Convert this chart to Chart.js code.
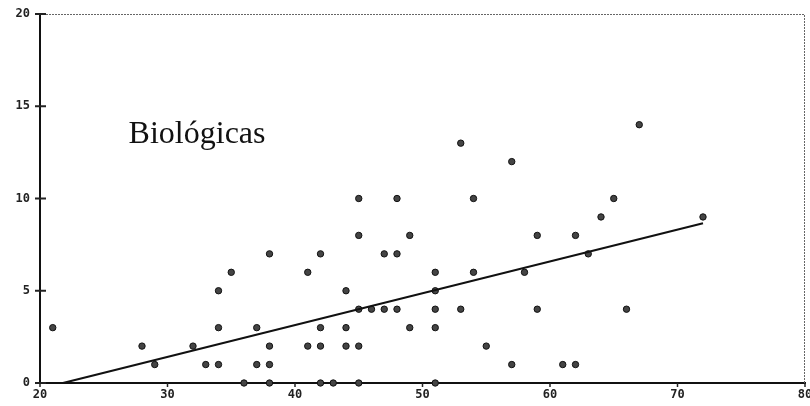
<!DOCTYPE html>
<html><head><meta charset="utf-8">
<script src="https://cdn.jsdelivr.net/npm/chart.js@4"></script>
<style>html,body{margin:0;padding:0;background:#fff}#wrap{position:relative;width:810px;height:406px}</style>
</head><body><div id="wrap"><canvas id="c" width="810" height="406"></canvas></div>
<script>
const pointsX = [21,28,29,32,33,34,34,34,35,36,37,37,38,38,38,38,41,41,42,42,42,42,43,44,44,44,45,45,45,45,45,46,47,47,48,48,48,49,49,51,51,51,51,51,53,53,54,54,55,57,57,58,59,59,61,62,62,63,64,65,66,67,72];
const pointsY = [3,2,1,2,1,1,3,5,6,0,1,3,0,1,2,7,6,2,7,3,2,0,0,5,3,2,10,8,4,2,0,4,7,4,10,7,4,8,3,6,5,4,3,0,13,4,10,6,2,12,1,6,8,4,1,8,1,7,9,10,4,14,9];
const fitX = [21.8, 72];
const fitY = [0, 8.66];
const xTicks = [20,30,40,50,60,70,80];
const yTicks = [0,5,10,15,20];
const labelText = "Biológicas";

const scatterData = pointsX.map((x,i)=>({x:x,y:pointsY[i]}));
const fitData = fitX.map((x,i)=>({x:x,y:fitY[i]}));

const framePlugin = {
  id:'frame',
  beforeDatasetsDraw(chart){
    const {ctx, chartArea:a, scales} = chart;
    ctx.save();
    ctx.strokeStyle = '#666';
    ctx.lineWidth = 1;
    ctx.setLineDash([2,1]);
    ctx.beginPath();
    ctx.moveTo(a.left, a.top+0.5); ctx.lineTo(a.right-0.5, a.top+0.5); ctx.lineTo(a.right-0.5, a.bottom);
    ctx.stroke();
    ctx.setLineDash([]);
    ctx.strokeStyle = '#222';
    ctx.lineWidth = 2;
    yTicks.forEach(v=>{
      const py = scales.y.getPixelForValue(v);
      ctx.beginPath(); ctx.moveTo(a.left-5, py); ctx.lineTo(a.left+6, py); ctx.stroke();
    });
    ctx.lineWidth = 1.5;
    xTicks.forEach(v=>{
      const px = scales.x.getPixelForValue(v);
      ctx.beginPath(); ctx.moveTo(px, a.bottom); ctx.lineTo(px, a.bottom+4); ctx.stroke();
    });
    ctx.fillStyle = '#111';
    ctx.font = '32px "Liberation Serif", "Times New Roman", serif';
    ctx.textBaseline = 'alphabetic';
    ctx.fillText(labelText, scales.x.getPixelForValue(26.95), scales.y.getPixelForValue(13.0));
    ctx.restore();
  }
};

new Chart(document.getElementById('c'), {
  type:'scatter',
  data:{datasets:[
    {type:'line', data:fitData, borderColor:'#111', borderWidth:2, pointRadius:0, fill:false, order:1, clip:false},
    {data:scatterData, backgroundColor:'#444', borderColor:'#111', borderWidth:1, pointRadius:3.2, order:2, clip:false}
  ]},
  options:{
    responsive:false, animation:false, devicePixelRatio:1,
    layout:{padding:{top:14,right:4,left:0,bottom:0}},
    plugins:{legend:{display:false}, tooltip:{enabled:false}},
    scales:{
      x:{type:'linear', min:20, max:80,
        afterFit(s){ s.height = 23; s.paddingLeft=0; s.paddingRight=0; },
        afterBuildTicks(s){ s.ticks = xTicks.map(v=>({value:v})); },
        grid:{display:false, drawTicks:false},
        border:{display:true, color:'#111', width:2},
        ticks:{padding:5, color:'#222', font:{family:'"DejaVu Sans Mono"', size:12, weight:'bold'}, maxRotation:0}
      },
      y:{type:'linear', min:0, max:20,
        afterFit(s){ s.width = 40; s.paddingTop=0; s.paddingBottom=0; },
        afterBuildTicks(s){ s.ticks = yTicks.map(v=>({value:v})); },
        grid:{display:false, drawTicks:false},
        border:{display:true, color:'#111', width:2},
        ticks:{padding:10, color:'#222', font:{family:'"DejaVu Sans Mono"', size:12, weight:'bold'}}
      }
    }
  },
  plugins:[framePlugin]
});
</script></body></html>
